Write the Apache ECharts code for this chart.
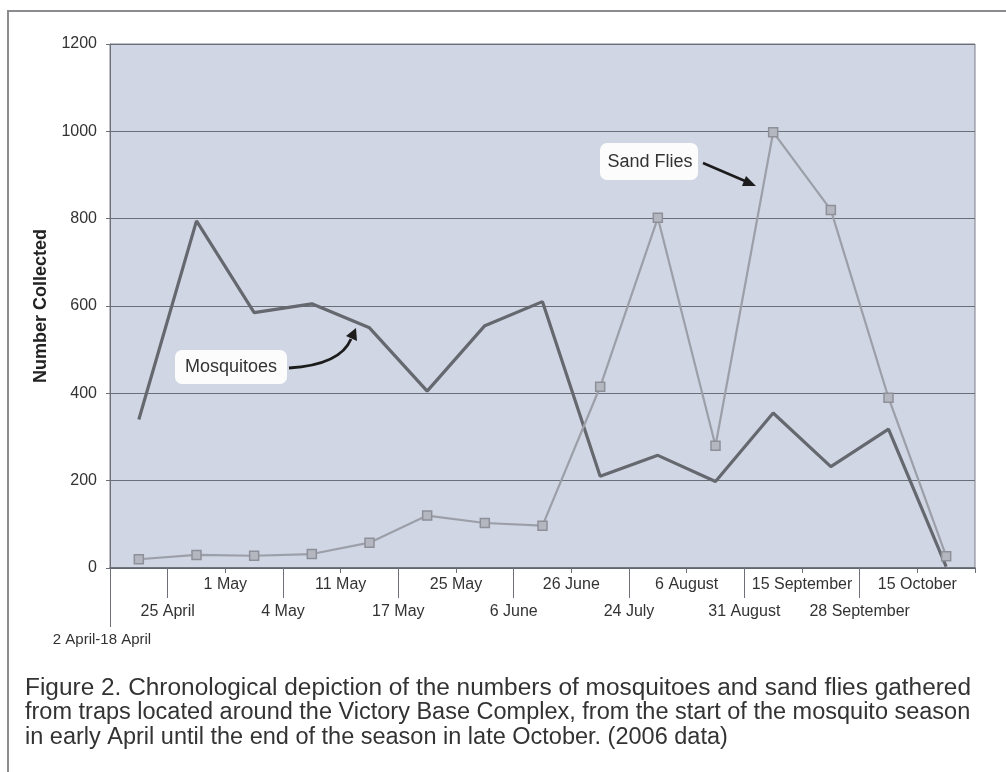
<!DOCTYPE html>
<html>
<head>
<meta charset="utf-8">
<script src="https://cdn.jsdelivr.net/npm/echarts@6/dist/echarts.min.js"></script>
<style>
  html, body { margin: 0; padding: 0; background: #fff; }
  #chart { width: 1006px; height: 772px; }
</style>
</head>
<body>
<div id="chart"></div>
<script>
// sampling periods (2006)
var categories = ['2 April-18 April', '25 April', '1 May', '4 May', '11 May', '17 May', '25 May',
  '6 June', '26 June', '24 July', '6 August', '31 August', '15 September', '28 September', '15 October'];
var mosquitoes = [340, 795, 585, 605, 550, 405, 555, 610, 210, 258, 198, 355, 232, 318, 3];
var sandFlies = [20, 30, 28, 32, 58, 120, 103, 97, 415, 802, 280, 998, 820, 390, 27];
var yTicks = [0, 200, 400, 600, 800, 1000, 1200];

var captionLines = [
  'Figure 2. Chronological depiction of the numbers of mosquitoes and sand flies gathered',
  'from traps located around the Victory Base Complex, from the start of the mosquito season',
  'in early April until the end of the season in late October. (2006 data)'
];

// the date labels sit on the category boundaries, so they go on a
// boundary axis (one slot per boundary, last one empty)
var boundaryLabels = categories.concat(['']);

var FONT = '"Liberation Sans", Arial, sans-serif';
var chart = echarts.init(document.getElementById('chart'));

function boundaryAxis(labelTest, margin, tickTest, tickLen, rich) {
  return {
    type: 'category',
    position: 'bottom',
    data: boundaryLabels,
    boundaryGap: false,
    axisLine: { show: false },
    axisTick: tickTest ? {
      show: true, length: tickLen, interval: tickTest,
      lineStyle: { color: '#6d7078' }
    } : { show: false },
    axisLabel: {
      interval: labelTest,
      margin: margin,
      color: '#333',
      fontFamily: FONT,
      fontSize: 16,
      formatter: rich ? function (v) { return '{p|' + v + '}'; } : null,
      rich: rich || {}
    }
  };
}

chart.setOption({
  backgroundColor: '#fff',
  animation: false,
  grid: {
    left: 110, right: 31, top: 44, bottom: 204,
    outerBoundsMode: 'none',
    show: true,
    backgroundColor: '#d0d6e4',
    borderColor: '#7c7f88',
    borderWidth: 1
  },
  xAxis: [
    {
      type: 'category',
      position: 'bottom',
      data: categories,
      boundaryGap: true,
      axisLine: { lineStyle: { color: '#5f636b', width: 1.5 } },
      axisTick: { show: true, length: 5, lineStyle: { color: '#6d7078' } },
      axisLabel: { show: false }
    },
    // top row of dates
    boundaryAxis(function (i) { return i > 0 && i % 2 === 0; }, 9, null, 0),
    // second row, with the long ticks
    boundaryAxis(function (i) { return i % 2 === 1; }, 36,
      function (i) { return i % 2 === 1 && i < 15; }, 30),
    // first period, lowest row; axis start runs down to it
    boundaryAxis(function (i) { return i === 0; }, 64,
      function (i) { return i === 0; }, 59,
      { p: { fontSize: 15, fontFamily: FONT, color: '#333', padding: [0, 16, 0, 0] } })
  ],
  yAxis: {
    type: 'value',
    min: yTicks[0],
    max: yTicks[yTicks.length - 1],
    interval: yTicks[1] - yTicks[0],
    name: 'Number Collected',
    nameLocation: 'middle',
    nameGap: 46,
    nameTextStyle: { fontFamily: FONT, fontSize: 18, fontWeight: 'bold', color: '#222' },
    axisLine: { show: true, lineStyle: { color: '#6d7078' } },
    axisTick: { show: true, length: 4, lineStyle: { color: '#6d7078' } },
    axisLabel: {
      margin: 13, color: '#333', fontFamily: FONT, fontSize: 16,
      formatter: function (v) { return String(v); }
    },
    splitLine: { show: true, lineStyle: { color: '#6a6e78', width: 1.2 } }
  },
  series: [
    {
      name: 'Mosquitoes',
      type: 'line',
      data: mosquitoes,
      symbol: 'none',
      lineStyle: { color: '#65686f', width: 3.2 },
      z: 3
    },
    {
      name: 'Sand Flies',
      type: 'line',
      data: sandFlies,
      symbol: 'rect',
      symbolSize: 9,
      itemStyle: { color: '#b4b7c0', borderColor: '#8d9099', borderWidth: 1.5 },
      lineStyle: { color: '#9c9fa8', width: 2.2 },
      z: 4
    }
  ],
  graphic: [
    // page frame
    { type: 'rect', shape: { x: 8, y: 11, width: 1010, height: 780 },
      style: { fill: null, stroke: '#8a8c90', lineWidth: 2 }, silent: true, z: 0 },

    // Sand Flies note
    { type: 'rect', shape: { x: 600, y: 143, width: 98, height: 37, r: 7 },
      style: { fill: 'rgba(255,255,255,0.93)' }, z: 10 },
    { type: 'text', x: 650, y: 162, z: 11,
      style: { text: 'Sand Flies', font: '18px ' + FONT, fill: '#333',
        textAlign: 'center', textVerticalAlign: 'middle' } },
    { type: 'line', shape: { x1: 703, y1: 163, x2: 745, y2: 181 },
      style: { stroke: '#1c1c1c', lineWidth: 2.5 }, z: 10 },
    { type: 'polygon', shape: { points: [[756, 186], [742, 186], [746, 176]] },
      style: { fill: '#1c1c1c' }, z: 10 },

    // Mosquitoes note
    { type: 'rect', shape: { x: 175, y: 350, width: 112, height: 34, r: 7 },
      style: { fill: 'rgba(255,255,255,0.93)' }, z: 10 },
    { type: 'text', x: 231, y: 367, z: 11,
      style: { text: 'Mosquitoes', font: '18px ' + FONT, fill: '#333',
        textAlign: 'center', textVerticalAlign: 'middle' } },
    { type: 'bezierCurve',
      shape: { x1: 289, y1: 368, cpx1: 322, cpy1: 366, cpx2: 344, cpy2: 356, x2: 351, y2: 339 },
      style: { stroke: '#1c1c1c', lineWidth: 2.8, fill: null }, z: 10 },
    { type: 'polygon', shape: { points: [[356, 328], [357, 341], [346, 336]] },
      style: { fill: '#1c1c1c' }, z: 10 },

    // caption
    { type: 'text', x: 25, y: 689, scaleX: 1.039, z: 10,
      style: { text: captionLines[0], font: '23.5px ' + FONT, fill: '#333', textVerticalAlign: 'middle' } },
    { type: 'text', x: 25, y: 713, z: 10,
      style: { text: captionLines[1], font: '23.5px ' + FONT, fill: '#333', textVerticalAlign: 'middle' } },
    { type: 'text', x: 25, y: 738, z: 10,
      style: { text: captionLines[2], font: '23.5px ' + FONT, fill: '#333', textVerticalAlign: 'middle' } }
  ]
});
</script>
</body>
</html>
